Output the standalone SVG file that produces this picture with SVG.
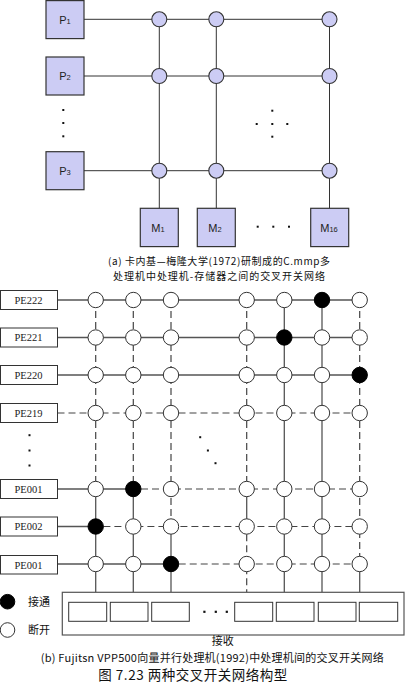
<svg xmlns="http://www.w3.org/2000/svg" width="406" height="685" viewBox="0 0 406 685">
<style>
.bg{fill:#ffffff}
.pbox{fill:#ccccf4;stroke:#333;stroke-width:1.2}
.pc{fill:#ccccf4;stroke:#333;stroke-width:1.1}
.la{stroke:#333;stroke-width:1;fill:none}
.sl{stroke:#555;stroke-width:1.3;fill:none}
.dl{stroke:#444;stroke-width:1.2;fill:none;stroke-dasharray:7 4}
.on{fill:#000;stroke:#000;stroke-width:1}
.off{fill:#fff;stroke:#333;stroke-width:1}
.pe{fill:#fff;stroke:#333;stroke-width:1}
.rx{fill:#fff;stroke:#555;stroke-width:1.2}
.ptxt{font-family:"Liberation Sans",Arial,sans-serif;font-size:11px;fill:#222;text-anchor:middle}
.petxt{font-family:"Liberation Serif","Times New Roman",serif;font-size:10.5px;fill:#222;text-anchor:middle}
.cj{font-family:"Noto Sans CJK SC","Noto Sans",sans-serif;font-size:11px;fill:#111}
.cap{font-size:10px}
.dot{fill:#111}
</style>
<rect class="bg" x="0" y="0" width="406" height="685"/>

<!-- Part (a) connectors -->
<g id="connectors-a">
<line class="la" x1="84" y1="19.3" x2="329.3" y2="19.3"/>
<line class="la" x1="84" y1="76" x2="329.3" y2="76"/>
<line class="la" x1="84" y1="170.7" x2="329.3" y2="170.7"/>
<line class="la" x1="159.3" y1="19.3" x2="159.3" y2="208.3"/>
<line class="la" x1="216.3" y1="19.3" x2="216.3" y2="208.3"/>
<line class="la" x1="329.5" y1="19.3" x2="329.5" y2="208.3"/>
</g>

<g id="P1"><rect class="pbox" x="46" y="0.6" width="38" height="38"/><text class="ptxt" x="65" y="23.5">P<tspan font-size="7.5px">1</tspan></text></g>
<g id="P2"><rect class="pbox" x="46" y="57" width="38" height="38"/><text class="ptxt" x="65" y="80">P<tspan font-size="7.5px">2</tspan></text></g>
<g id="P3"><rect class="pbox" x="46" y="151.7" width="38" height="38"/><text class="ptxt" x="65" y="174.7">P<tspan font-size="7.5px">3</tspan></text></g>

<g id="switches-a">
<circle class="pc" cx="159.3" cy="19.3" r="7.5"/><circle class="pc" cx="216.3" cy="19.3" r="7.5"/><circle class="pc" cx="329.5" cy="19.3" r="7.5"/>
<circle class="pc" cx="159.3" cy="76" r="7.5"/><circle class="pc" cx="216.3" cy="76" r="7.5"/><circle class="pc" cx="329.5" cy="76" r="7.5"/>
<circle class="pc" cx="159.3" cy="170.7" r="7.5"/><circle class="pc" cx="216.3" cy="170.7" r="7.5"/><circle class="pc" cx="329.5" cy="170.7" r="7.5"/>
</g>

<g id="M1"><rect class="pbox" x="140.3" y="208.3" width="38" height="38.3"/><text class="ptxt" x="158" y="231.5">M<tspan font-size="7.5px">1</tspan></text></g>
<g id="M2"><rect class="pbox" x="197.3" y="208.3" width="38" height="38.3"/><text class="ptxt" x="215" y="231.5">M<tspan font-size="7.5px">2</tspan></text></g>
<g id="M16"><rect class="pbox" x="310.7" y="208.3" width="38" height="38.3"/><text class="ptxt" x="329" y="231.5">M<tspan font-size="7.5px">16</tspan></text></g>

<g id="dots-a">
<rect class="dot" x="62.3" y="109" width="2" height="2"/><rect class="dot" x="62.3" y="122" width="2" height="2"/><rect class="dot" x="62.3" y="135.3" width="2" height="2"/>
<rect class="dot" x="271.3" y="109.7" width="2" height="2"/><rect class="dot" x="255.7" y="123" width="2" height="2"/><rect class="dot" x="271.3" y="123" width="2" height="2"/><rect class="dot" x="286.3" y="123" width="2" height="2"/><rect class="dot" x="271.3" y="135.7" width="2" height="2"/>
<rect class="dot" x="256.7" y="225.7" width="2" height="2"/><rect class="dot" x="272.3" y="225.7" width="2" height="2"/><rect class="dot" x="288" y="225.7" width="2" height="2"/>
</g>

<text class="cj cap" x="108" y="264.8" textLength="222" lengthAdjust="spacing">(a) 卡内基—梅隆大学(1972)研制成的C.mmp多</text>
<text class="cj cap" x="113" y="279.8" textLength="212" lengthAdjust="spacing">处理机中处理机-存储器之间的交叉开关网络</text>

<!-- Part (b) connectors -->
<g id="connectors-b">
<line class="sl" x1="57.5" y1="300" x2="359.7" y2="300"/>
<line class="sl" x1="57.5" y1="337.5" x2="359.7" y2="337.5"/>
<line class="sl" x1="57.5" y1="375" x2="359.7" y2="375"/>
<line class="dl" x1="57.5" y1="413" x2="359.7" y2="413"/>
<line class="sl" x1="57.5" y1="489" x2="133.3" y2="489"/>
<line class="dl" x1="141" y1="489" x2="359.7" y2="489"/>
<line class="sl" x1="57.5" y1="526.5" x2="95.7" y2="526.5"/>
<line class="dl" x1="103.4" y1="526.5" x2="359.7" y2="526.5"/>
<line class="sl" x1="57.5" y1="564" x2="171" y2="564"/>
<line class="dl" x1="178.7" y1="564" x2="359.7" y2="564"/>

<line class="dl" x1="95.7" y1="300" x2="95.7" y2="489"/>
<line class="sl" x1="95.7" y1="489" x2="95.7" y2="592.3"/>
<line class="dl" x1="133.3" y1="300" x2="133.3" y2="489"/>
<line class="sl" x1="133.3" y1="489" x2="133.3" y2="592.3"/>
<line class="dl" x1="171" y1="300" x2="171" y2="526.5"/>
<line class="sl" x1="171" y1="526.5" x2="171" y2="592.3"/>
<line class="dl" x1="246.7" y1="300" x2="246.7" y2="489"/>
<line class="sl" x1="246.7" y1="489" x2="246.7" y2="526.5"/>
<line class="dl" x1="246.7" y1="534.2" x2="246.7" y2="592.3"/>
<line class="sl" x1="284.3" y1="300" x2="284.3" y2="592.3"/>
<line class="sl" x1="322" y1="300" x2="322" y2="592.3"/>
<line class="dl" x1="359.7" y1="300" x2="359.7" y2="564"/>
<line class="sl" x1="359.7" y1="564" x2="359.7" y2="592.3"/>
</g>

<g id="PE222"><rect class="pe" x="0.5" y="290.5" width="57" height="19"/><text class="petxt" x="28.5" y="303.8">PE222</text></g>
<g id="PE221"><rect class="pe" x="0.5" y="328" width="57" height="19"/><text class="petxt" x="28.5" y="341.3">PE221</text></g>
<g id="PE220"><rect class="pe" x="0.5" y="365.5" width="57" height="19"/><text class="petxt" x="28.5" y="378.8">PE220</text></g>
<g id="PE219"><rect class="pe" x="0.5" y="403.5" width="57" height="19"/><text class="petxt" x="28.5" y="416.8">PE219</text></g>
<g id="PE001a"><rect class="pe" x="0.5" y="479.5" width="57" height="19"/><text class="petxt" x="28.5" y="492.8">PE001</text></g>
<g id="PE002"><rect class="pe" x="0.5" y="517" width="57" height="19"/><text class="petxt" x="28.5" y="530.3">PE002</text></g>
<g id="PE001b"><rect class="pe" x="0.5" y="555.5" width="57" height="18.5"/><text class="petxt" x="28.5" y="568.5">PE001</text></g>

<g id="switches-b">
<circle class="off" cx="95.7" cy="300" r="7.7"/><circle class="off" cx="133.3" cy="300" r="7.7"/><circle class="off" cx="171" cy="300" r="7.7"/><circle class="off" cx="246.7" cy="300" r="7.7"/><circle class="off" cx="284.3" cy="300" r="7.7"/><circle class="on" cx="322" cy="300" r="7.7"/><circle class="off" cx="359.7" cy="300" r="7.7"/>
<circle class="off" cx="95.7" cy="337.5" r="7.7"/><circle class="off" cx="133.3" cy="337.5" r="7.7"/><circle class="off" cx="171" cy="337.5" r="7.7"/><circle class="off" cx="246.7" cy="337.5" r="7.7"/><circle class="on" cx="284.3" cy="337.5" r="7.7"/><circle class="off" cx="322" cy="337.5" r="7.7"/><circle class="off" cx="359.7" cy="337.5" r="7.7"/>
<circle class="off" cx="95.7" cy="375" r="7.7"/><circle class="off" cx="133.3" cy="375" r="7.7"/><circle class="off" cx="171" cy="375" r="7.7"/><circle class="off" cx="246.7" cy="375" r="7.7"/><circle class="off" cx="284.3" cy="375" r="7.7"/><circle class="off" cx="322" cy="375" r="7.7"/><circle class="on" cx="359.7" cy="375" r="7.7"/>
<circle class="off" cx="95.7" cy="413" r="7.7"/><circle class="off" cx="133.3" cy="413" r="7.7"/><circle class="off" cx="171" cy="413" r="7.7"/><circle class="off" cx="246.7" cy="413" r="7.7"/><circle class="off" cx="284.3" cy="413" r="7.7"/><circle class="off" cx="322" cy="413" r="7.7"/><circle class="off" cx="359.7" cy="413" r="7.7"/>
<circle class="off" cx="95.7" cy="489" r="7.7"/><circle class="on" cx="133.3" cy="489" r="7.7"/><circle class="off" cx="171" cy="489" r="7.7"/><circle class="off" cx="246.7" cy="489" r="7.7"/><circle class="off" cx="284.3" cy="489" r="7.7"/><circle class="off" cx="322" cy="489" r="7.7"/><circle class="off" cx="359.7" cy="489" r="7.7"/>
<circle class="on" cx="95.7" cy="526.5" r="7.7"/><circle class="off" cx="133.3" cy="526.5" r="7.7"/><circle class="off" cx="171" cy="526.5" r="7.7"/><circle class="off" cx="246.7" cy="526.5" r="7.7"/><circle class="off" cx="284.3" cy="526.5" r="7.7"/><circle class="off" cx="322" cy="526.5" r="7.7"/><circle class="off" cx="359.7" cy="526.5" r="7.7"/>
<circle class="off" cx="95.7" cy="564" r="7.7"/><circle class="off" cx="133.3" cy="564" r="7.7"/><circle class="on" cx="171" cy="564" r="7.7"/><circle class="off" cx="246.7" cy="564" r="7.7"/><circle class="off" cx="284.3" cy="564" r="7.7"/><circle class="off" cx="322" cy="564" r="7.7"/><circle class="off" cx="359.7" cy="564" r="7.7"/>
</g>

<g id="dots-b">
<rect class="dot" x="28.5" y="434.2" width="2" height="2"/><rect class="dot" x="28.5" y="449.5" width="2" height="2"/><rect class="dot" x="28.5" y="464.5" width="2" height="2"/>
<rect class="dot" x="199.2" y="436.2" width="2" height="2"/><rect class="dot" x="206.9" y="449.5" width="2" height="2"/><rect class="dot" x="214.5" y="462.2" width="2" height="2"/>
</g>

<g id="receiver">
<rect class="rx" x="62.3" y="592.3" width="341.7" height="42.7"/>
<rect class="pe" x="68.7" y="602.3" width="38" height="19"/>
<rect class="pe" x="110.3" y="602.3" width="37.7" height="19"/>
<rect class="pe" x="151.7" y="602.3" width="37.6" height="19"/>
<rect class="pe" x="234.7" y="602.3" width="38" height="19"/>
<rect class="pe" x="276.3" y="602.3" width="37.7" height="19"/>
<rect class="pe" x="318.3" y="602.3" width="37.7" height="19"/>
<rect class="pe" x="359.3" y="602.3" width="38.4" height="19"/>
<rect class="dot" x="203.3" y="610.7" width="2.2" height="2.2"/><rect class="dot" x="214.7" y="610.7" width="2.2" height="2.2"/><rect class="dot" x="225.7" y="610.7" width="2.2" height="2.2"/>
<text class="cj" x="222.7" y="645" text-anchor="middle">接收</text>
</g>

<g id="legend">
<circle class="on" cx="7.5" cy="601.7" r="7.3"/>
<text class="cj" x="28" y="605.8">接通</text>
<circle class="off" cx="7.5" cy="630" r="7.3"/>
<text class="cj" x="28" y="634.2">断开</text>
</g>

<text class="cj" x="40.7" y="662.3" textLength="343" lengthAdjust="spacing">(b)  Fujitsn VPP500向量并行处理机(1992)中处理机间的交叉开关网络</text>
<text class="cj" x="98.3" y="680" textLength="189" lengthAdjust="spacing" style="font-size:13.5px">图 7.23 两种交叉开关网络构型</text>
</svg>
